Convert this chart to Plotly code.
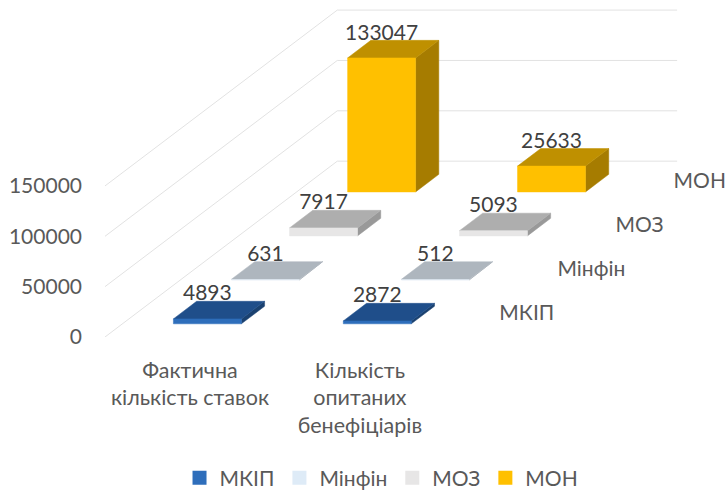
import plotly.graph_objects as go

categories = ["Фактична<br>кількість ставок", "Кількість<br>опитаних<br>бенефіціарів"]
series_names = ["МКІП", "Мінфін", "МОЗ", "МОН"]
mkip = [4893, 2872]
minfin = [631, 512]
moz = [7917, 5093]
mon = [133047, 25633]
series_values = [mkip, minfin, moz, mon]
y_ticks = [0, 50000, 100000, 150000]

front_colors = ["#2E6EBB", "#DEEBF7", "#E7E6E6", "#FFC000"]
top_colors = ["#1F4E8A", "#AEB6BE", "#AEAEAE", "#BF9000"]
side_colors = ["#1A4170", "#9AA3AB", "#999999", "#A67C00"]

PX_PER_UNIT = 0.001008
CAT_PX = 170.0
DEPTH_Y = 44.0 / PX_PER_UNIT   # value units per series step
DEPTH_X = 58.1 / CAT_PX        # category units per series step
LEFT, BOTTOM_PX = 104.7, 337.3
W, H = 726, 490
FONT = "Lato, Carlito, sans-serif"
FS = 21.5
FS_NUM = 21


def proj(cat, depth, value):
    return cat + depth * DEPTH_X, value + depth * DEPTH_Y


def poly(points, color):
    xs, ys = zip(*[proj(*p) for p in points + points[:1]])
    return go.Scatter(x=xs, y=ys, mode="lines", fill="toself", fillcolor=color,
                      line=dict(color=color, width=0.5), showlegend=False, hoverinfo="skip")


fig = go.Figure()

# gridlines on left wall and back wall
for v in y_ticks:
    xs, ys = zip(proj(0, 0, v), proj(0, 4, v), proj(2, 4, v))
    fig.add_trace(go.Scatter(x=xs, y=ys, mode="lines", line=dict(color="#E2E2E2", width=1),
                             showlegend=False, hoverinfo="skip"))

# bars, back to front
for s in range(3, -1, -1):
    d0, d1 = s + 0.3, s + 0.7
    for c in range(2):
        a, b = c + 0.3, c + 0.7
        v = series_values[s][c]
        fig.add_trace(poly([(b, d0, 0), (b, d1, 0), (b, d1, v), (b, d0, v)], side_colors[s]))
        fig.add_trace(poly([(a, d0, v), (b, d0, v), (b, d1, v), (a, d1, v)], top_colors[s]))
        fig.add_trace(poly([(a, d0, 0), (b, d0, 0), (b, d0, v), (a, d0, v)], front_colors[s]))

# data labels
for s in range(4):
    for c in range(2):
        v = series_values[s][c]
        x, _ = proj(c + 0.5, s + 0.3, v)
        _, y = proj(c + 0.5, s + 0.6, v)
        fig.add_trace(go.Scatter(x=[x], y=[y], mode="text", text=[str(v)], textposition="top center",
                                 textfont=dict(family=FONT, size=FS_NUM, color="#404040"),
                                 cliponaxis=False, showlegend=False, hoverinfo="skip"))

# depth-axis labels
for s, name in enumerate(series_names):
    x, y = proj(2.15, s + 0.5, 0)
    fig.add_trace(go.Scatter(x=[x], y=[y], mode="text", text=[name], textposition="middle right",
                             textfont=dict(family=FONT, size=FS_NUM, color="#595959"),
                             cliponaxis=False, showlegend=False, hoverinfo="skip"))

# legend entries
for name, color in zip(series_names, front_colors):
    fig.add_trace(go.Scatter(x=[None], y=[None], mode="markers", name=name,
                             marker=dict(symbol="square", size=14, color=color)))

fig.update_layout(
    width=W, height=H, autosize=False,
    margin=dict(l=LEFT, r=0, t=0, b=H - BOTTOM_PX, pad=0),
    paper_bgcolor="white", plot_bgcolor="white",
    font=dict(family=FONT, size=FS, color="#595959"),
    xaxis=dict(range=[0, (W - LEFT) / CAT_PX], tickvals=[0.5, 1.5], ticktext=categories,
               showgrid=False, zeroline=False, showline=False, ticks="", ticklabelstandoff=18,
               tickfont=dict(family=FONT, size=FS, color="#595959")),
    yaxis=dict(range=[0, BOTTOM_PX / PX_PER_UNIT], tickvals=y_ticks, ticktext=[str(t) for t in y_ticks],
               showgrid=False, zeroline=False, showline=False, ticks="", ticklabelstandoff=22,
               tickfont=dict(family=FONT, size=FS_NUM, color="#595959")),
    legend=dict(orientation="h", x=0.12, xanchor="left", y=0.0245, yanchor="middle", yref="container",
                font=dict(family=FONT, size=FS_NUM, color="#595959"), bgcolor="rgba(0,0,0,0)"),
    showlegend=True,
)
fig.write_html("out.html", config=dict(displayModeBar=False),
               post_script="document.body.style.margin='0';document.documentElement.style.overflow='hidden';")
